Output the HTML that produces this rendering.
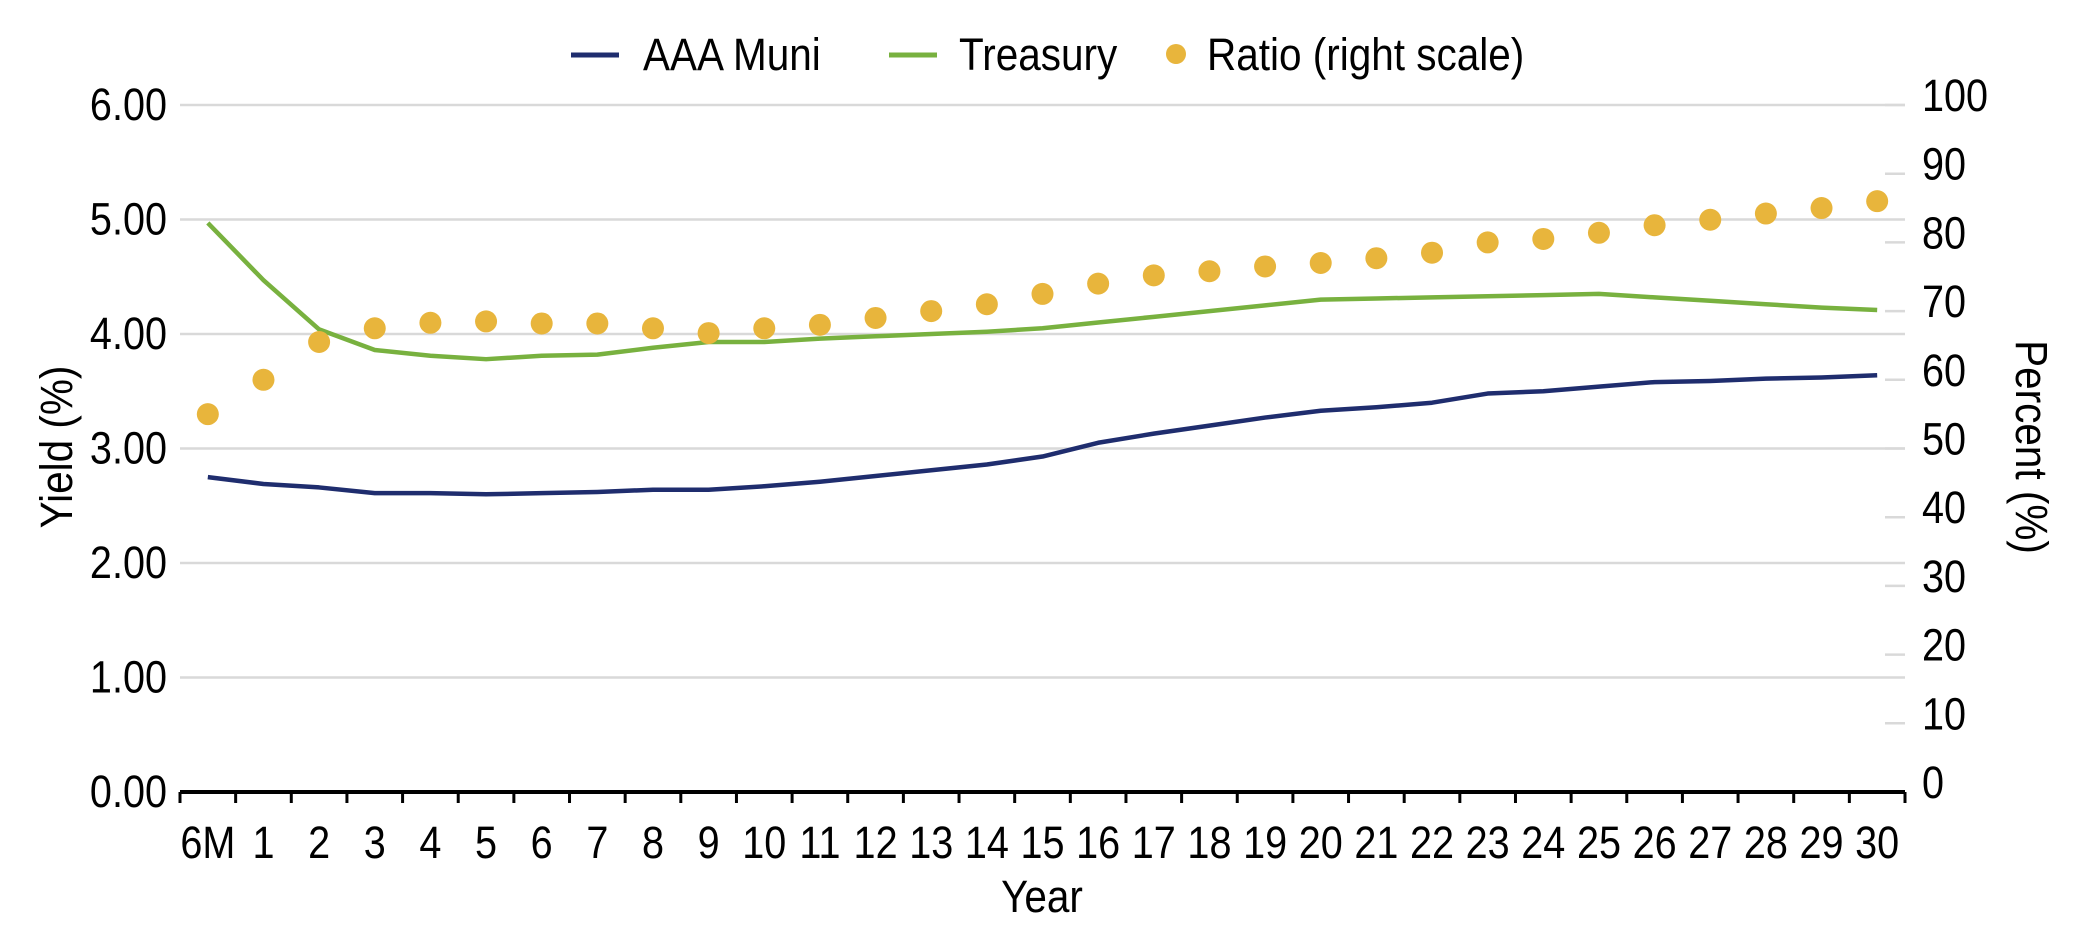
<!DOCTYPE html>
<html><head><meta charset="utf-8"><style>
body{margin:0;background:#fff;}
svg{display:block;font-family:"Liberation Sans",sans-serif;}
</style></head><body>
<svg id="chart" width="2084" height="938" xmlns="http://www.w3.org/2000/svg">
<g id="legend">
<line x1="571" y1="55" x2="619" y2="55" stroke="#1f2d6e" stroke-width="5"/>
<text transform="translate(643,70) scale(0.9,1)" font-size="45">AAA Muni</text>
<line x1="889" y1="55" x2="937" y2="55" stroke="#78b13f" stroke-width="5"/>
<text transform="translate(959,70) scale(0.9,1)" font-size="45">Treasury</text>
<circle cx="1176" cy="54" r="10" fill="#e8b53c"/>
<text transform="translate(1207,70) scale(0.9,1)" font-size="45">Ratio (right scale)</text>
</g>
<g id="grid"></g><g id="axes"></g><g id="series"></g>
<text transform="translate(72,447) rotate(-90) scale(0.9,1)" text-anchor="middle" font-size="45">Yield (%)</text>
<text transform="translate(2016,447) rotate(90) scale(0.9,1)" text-anchor="middle" font-size="45">Percent (%)</text>
<text transform="translate(1042,912) scale(0.9,1)" text-anchor="middle" font-size="45">Year</text>
</svg>
<script>
const categories=["6M","1","2","3","4","5","6","7","8","9","10","11","12","13","14","15","16","17","18","19","20","21","22","23","24","25","26","27","28","29","30"];
const muni=[2.75,2.69,2.66,2.61,2.61,2.60,2.61,2.62,2.64,2.64,2.67,2.71,2.76,2.81,2.86,2.93,3.05,3.13,3.20,3.27,3.33,3.36,3.40,3.48,3.50,3.54,3.58,3.59,3.61,3.62,3.64];
const treasury=[4.97,4.47,4.04,3.86,3.81,3.78,3.81,3.82,3.88,3.93,3.93,3.96,3.98,4.00,4.02,4.05,4.10,4.15,4.20,4.25,4.30,4.31,4.32,4.33,4.34,4.35,4.32,4.29,4.26,4.23,4.21];
const ratio=[55,60,65.5,67.5,68.3,68.5,68.2,68.2,67.5,66.8,67.5,68,69,70,71,72.5,74,75.2,75.8,76.5,77,77.7,78.5,80,80.5,81.4,82.5,83.3,84.2,85,86];
const leftTicks=["0.00","1.00","2.00","3.00","4.00","5.00","6.00"];
const rightTicks=["0","10","20","30","40","50","60","70","80","90","100"];
const NS="http://www.w3.org/2000/svg";
const X0=180,X1=1905,Y0=792,YT=105;
const band=(X1-X0)/categories.length;
const x=i=>X0+band*(i+0.5);
const yL=v=>Y0-(Y0-YT)*v/6;
const yR=v=>Y0-(Y0-YT)*v/100;
function mk(tag,attrs,parent){const e=document.createElementNS(NS,tag);for(const k in attrs)e.setAttribute(k,attrs[k]);parent.appendChild(e);return e;}
function txt(parent,tx,ty,s,anchor){const e=mk('text',{transform:'translate('+tx+','+ty+') scale(0.88,1)','text-anchor':anchor,'font-size':45},parent);e.textContent=s;return e;}
const grid=document.getElementById('grid'),axes=document.getElementById('axes'),ser=document.getElementById('series');
leftTicks.forEach(t=>{
  const v=parseFloat(t);
  if(v>0){const g=mk('line',{x1:X0,x2:X1,y1:yL(v),y2:yL(v),stroke:'#d9d9d9','stroke-width':2.5},grid);
  
  }
  const tx=txt(axes,167,yL(v)+15,t,'end');
  
  
});
rightTicks.forEach(t=>{
  const v=parseFloat(t);
  const tk=mk('line',{x1:1885,x2:X1,y1:yR(v),y2:yR(v),stroke:'#d9d9d9','stroke-width':2.5},axes);
  
  
  const tx=txt(axes,1922,yR(v)+6,t,'start');
  
  
});
const base=mk('line',{x1:X0,x2:X1,y1:Y0,y2:Y0,stroke:'#000','stroke-width':4},axes);


for(let i=0;i<=categories.length;i++){
  const t=mk('line',{x1:X0+band*i,x2:X0+band*i,y1:Y0,y2:Y0+11,stroke:'#000','stroke-width':3},axes);
  
  
}
categories.forEach((c,i)=>{
  const tx=txt(axes,x(i),858,c,'middle');
  
  
});
const tp=mk('polyline',{points:treasury.map((v,i)=>x(i)+','+yL(v)).join(' '),fill:'none',stroke:'#78b13f','stroke-width':4.5,'stroke-linejoin':'round'},ser);


const mp=mk('polyline',{points:muni.map((v,i)=>x(i)+','+yL(v)).join(' '),fill:'none',stroke:'#1f2d6e','stroke-width':4.5,'stroke-linejoin':'round'},ser);


ratio.forEach((v,i)=>{
  const c=mk('circle',{cx:x(i),cy:yR(v),r:11,fill:'#e8b53c'},ser);
  
  
});
</script>
</body></html>
